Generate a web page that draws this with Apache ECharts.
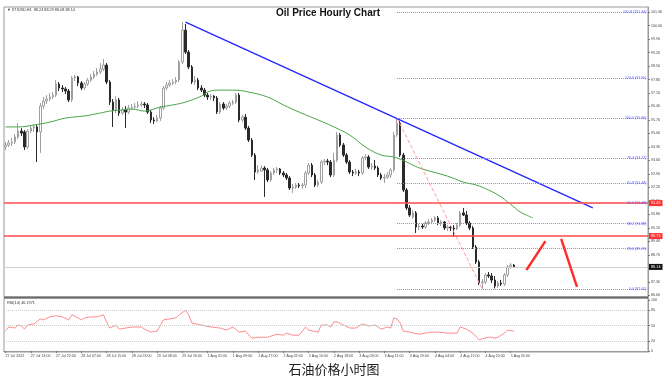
<!DOCTYPE html>
<html>
<head>
<meta charset="utf-8">
<script src="https://cdn.jsdelivr.net/npm/echarts@6/dist/echarts.min.js"></script>
<style>
html,body{margin:0;padding:0;background:#fff;}
#c{width:672px;height:382px;}
</style>
</head>
<body>
<div id="c"></div>
<script>
// ---------- DATA ----------
const xTickLabels = ["27 Jul 2022","27 Jul 14:00","27 Jul 22:00","28 Jul 07:00","28 Jul 15:00","28 Jul 23:00","29 Jul 08:00","29 Jul 16:00","1 Aug 01:00","1 Aug 09:00","1 Aug 17:00","2 Aug 02:00","2 Aug 10:00","2 Aug 18:00","3 Aug 03:00","3 Aug 11:00","3 Aug 19:00","4 Aug 04:00","4 Aug 12:00","4 Aug 20:00","5 Aug 05:00"];
const priceTicks = [101.36,100.66,99.96,99.26,98.56,97.86,97.16,96.46,95.76,95.06,94.36,93.66,92.96,92.26,91.56,90.86,90.16,89.46,88.76,88.06,87.36,86.66];
const rsiTicks = [100,80,50,20,0];
const rsiLevels = [80,50,20];

const opens = [94.36,94.46,94.57,94.62,94.88,95.19,95.14,94.36,95.19,95.34,
95.40,95.14,96.48,96.74,96.85,96.95,97.05,97.62,97.42,97.37,
97.26,96.80,97.94,97.99,97.68,97.42,97.62,97.83,97.99,98.14,
98.25,98.40,98.61,97.73,96.69,96.28,96.80,96.12,96.28,96.17,
96.38,96.43,96.48,96.54,96.59,96.54,96.17,95.76,95.71,95.86,
96.38,97.42,97.57,97.68,97.73,97.83,98.77,100.42,99.28,98.51,
97.73,97.83,97.42,97.31,97.05,96.95,97.00,96.90,96.17,96.59,
96.38,96.48,96.64,96.69,97.05,95.76,95.91,95.34,94.72,93.94,
93.06,93.11,93.27,93.17,92.65,93.01,93.17,93.22,93.01,92.91,
92.75,92.23,92.28,92.39,92.34,92.39,93.01,93.42,92.91,92.39,
92.54,93.58,93.63,93.58,92.91,93.68,94.98,94.46,93.94,93.58,
93.06,93.01,93.06,93.01,93.79,93.84,93.32,93.37,93.27,92.91,
92.75,92.80,92.91,93.17,94.98,95.60,93.94,92.13,91.20,90.73,
90.94,90.21,90.26,90.21,90.42,90.47,90.57,90.68,90.42,90.47,
90.16,90.21,90.16,90.11,90.31,90.94,90.83,90.42,90.16,89.17,
88.40,87.31,87.36,87.72,87.67,87.46,87.15,87.31,87.25,87.72,
88.14,88.24];
const closes = [94.46,94.57,94.62,94.88,95.19,95.08,94.36,95.19,95.34,95.40,
95.14,96.48,96.74,96.85,96.95,97.05,97.62,97.42,97.37,97.26,
96.80,97.94,97.99,97.68,97.42,97.62,97.83,97.99,98.14,98.25,
98.40,98.61,97.73,96.69,96.28,96.80,96.12,96.28,96.17,96.38,
96.43,96.48,96.54,96.59,96.54,96.17,95.76,95.71,95.86,96.38,
97.42,97.57,97.68,97.73,97.83,98.77,100.42,99.28,98.51,97.73,
97.83,97.42,97.31,97.05,96.95,97.00,96.90,96.17,96.59,96.38,
96.48,96.64,96.69,97.05,95.76,95.91,95.34,94.72,93.94,93.06,
93.17,93.27,93.17,92.65,93.01,93.17,93.22,93.01,92.91,92.75,
92.23,92.28,92.39,92.34,92.39,93.01,93.42,92.91,92.39,92.54,
93.58,93.63,93.58,92.91,93.68,94.98,94.46,93.94,93.58,93.06,
93.01,93.06,93.01,93.79,93.84,93.32,93.37,93.27,92.91,92.75,
92.80,92.91,93.17,94.98,95.60,93.94,92.13,91.20,90.83,90.94,
90.21,90.26,90.21,90.42,90.47,90.57,90.68,90.42,90.47,90.16,
90.21,90.16,90.11,90.31,90.94,90.83,90.42,90.16,89.17,88.40,
87.31,87.36,87.72,87.67,87.46,87.15,87.31,87.25,87.72,88.14,
88.24,88.14];
const lows = [94.20,94.36,94.41,94.51,94.77,94.93,94.20,94.25,95.08,95.14,
93.58,94.05,96.33,96.59,96.74,96.85,96.95,97.26,97.21,97.11,
96.69,96.69,97.78,97.52,97.31,97.31,97.52,97.73,97.88,98.04,
98.14,98.30,97.62,96.54,95.40,96.12,95.97,96.02,95.34,96.07,
96.28,96.33,96.38,96.43,96.38,96.07,95.60,95.55,95.65,95.71,
96.28,97.31,97.47,97.57,97.62,97.73,98.66,99.18,98.40,97.62,
97.57,97.31,97.21,96.95,96.80,96.80,96.74,96.07,96.07,96.28,
96.28,96.38,96.54,96.59,95.65,95.65,95.24,94.62,93.84,92.65,
92.96,93.06,91.77,92.54,92.54,92.91,93.01,92.91,92.80,92.65,
92.13,91.97,92.18,92.23,92.18,92.23,92.91,92.80,92.28,92.28,
92.44,93.42,93.42,92.80,92.80,93.58,94.36,93.84,93.48,92.96,
92.85,92.91,92.85,92.91,93.68,93.22,93.17,93.17,92.80,92.65,
92.49,92.70,92.75,93.06,94.88,93.84,92.02,91.09,90.73,90.62,
89.90,90.05,90.11,90.11,90.31,90.37,90.47,90.31,90.26,90.05,
90.00,90.00,89.69,90.05,90.21,90.78,90.31,90.05,89.07,88.29,
87.20,87.00,87.25,87.57,87.31,87.02,87.05,87.15,87.15,87.62,
88.03,88.08];
const highs = [94.62,94.72,94.82,95.03,95.60,95.34,95.24,95.29,95.50,95.55,
95.50,96.64,96.95,97.05,97.16,97.21,97.83,97.73,97.57,97.47,
97.37,98.04,98.09,98.04,97.78,97.73,97.94,98.14,98.30,98.45,
98.71,98.92,98.71,97.83,96.85,97.00,96.90,96.43,96.48,96.54,
96.59,96.64,96.74,96.74,96.69,96.64,96.28,95.91,96.02,96.48,
97.52,97.73,97.83,97.88,97.99,98.87,100.84,100.74,99.39,98.61,
98.04,97.94,97.57,97.42,97.16,97.11,97.05,97.00,96.69,96.69,
96.59,96.74,96.80,97.16,97.16,96.02,96.07,95.45,94.82,94.05,
93.42,93.42,93.37,93.27,93.11,93.27,93.32,93.27,93.11,93.01,
92.85,92.44,92.49,92.49,92.49,93.11,93.53,93.53,93.01,92.65,
93.68,93.74,93.74,93.68,94.05,95.14,95.08,94.57,94.05,93.68,
93.17,93.22,93.17,93.89,93.99,93.94,93.53,93.68,93.37,93.01,
92.96,93.06,93.27,95.14,95.86,95.71,94.05,92.23,91.35,91.09,
91.04,90.37,90.37,90.52,90.62,90.68,90.78,90.78,90.57,90.52,
90.31,90.26,90.31,90.42,91.04,91.20,91.04,90.52,90.26,89.28,
88.50,87.51,87.82,87.88,87.82,87.67,87.41,87.46,87.82,88.24,
88.34,88.29];

const maBars = [0,4,9,14,19,25,30,33,37,40,44,49,53,57,62,64,67,72,77,83,88,93,99,104,109,114,119,123,127,129,132,140,145,149,153,157,159,161,163,165,167];
const maValues = [95.40,95.40,95.50,95.65,95.86,95.97,96.12,96.22,96.28,96.33,96.22,96.43,96.54,96.69,97.00,97.21,97.31,97.31,97.21,96.95,96.54,96.17,95.76,95.40,94.98,94.36,93.94,93.84,93.58,93.42,93.22,92.85,92.54,92.39,92.13,91.77,91.51,91.25,90.99,90.83,90.68];

const rsiBars = [0,1,3,4,5,6,7,9,11,12,14,16,18,20,21,23,24,25,27,29,31,32,33,35,36,38,40,43,44,46,48,50,52,54,55,57,58,59,62,65,68,70,72,74,76,78,80,83,86,88,89,91,93,95,96,99,100,102,103,104,105,107,109,111,113,115,117,118,119,121,122,123,124,125,126,128,131,133,135,137,140,141,143,144,146,148,150,151,153,154,155,156,158,159,161];
const rsiValues = [40,47,45,51,49,43,51,53,63,61,67,69,67,61,71,65,61,65,67,67,71,57,45,51,43,45,47,47,43,37,39,61,63,65,71,80,71,55,51,47,45,41,47,37,39,25,27,27,33,31,35,31,31,47,41,37,51,51,47,57,57,51,45,45,53,49,51,47,43,47,45,65,63,55,39,37,33,35,37,37,35,35,35,47,43,35,22,24,27,27,25,27,35,41,39];

const trendBars = [57,186];
const trendValues = [100.84,91.20];
const fibDiagBars = [124,151];
const fibDiagValues = [95.86,87.00];
const fibLevels = ["0.0","23.6","38.2","50.0","61.8","76.4","100.0","123.6","161.8"];
const fibPrices = [87.00,89.09,90.38,91.43,92.48,93.77,95.86,97.95,101.34];
const fibStartBar = 124;
const redLevels = [91.45,89.74];
const bidPrice = 88.14;
const arrowUpBars = [165,171];
const arrowUpValues = [87.98,89.48];
const arrowDownBars = [176,181];
const arrowDownValues = [89.59,87.10];

const symbolHeader = "\u25BC XTIUSD,H1  88.24 88.29 88.08 88.14";
const rsiHeader = "RSI(14) 46.1971";
const titleText = "Oil Price Hourly Chart";
const captionText = "石油价格小时图";

// ---------- BUILD ----------
const NCAT = 204;
const categories = Array.from({length: NCAT}, (_, i) => String(i));
const candleData = opens.map((o, i) => [o, closes[i], lows[i], highs[i]]);
const pairs = (xs, ys) => xs.map((x, i) => [x, ys[i]]);
const smallFont = 'Liberation Sans';

const chart = echarts.init(document.getElementById('c'), null, {renderer: 'canvas', width: 672, height: 382});

const fibMarks = fibLevels.map((lv, i) => [
  {coord: [fibStartBar, fibPrices[i]]},
  {coord: [NCAT - 1, fibPrices[i]], label: {formatter: lv + ' (' + fibPrices[i].toFixed(2) + ')'}}
]);

chart.setOption({
  animation: false,
  backgroundColor: '#ffffff',
  grid: [
    {left: 4, top: 7, width: 644, height: 290, show: true, borderColor: '#9a9a9a', borderWidth: 1},
    {left: 4, top: 298, width: 644, height: 54, show: true, borderColor: '#9a9a9a', borderWidth: 1}
  ],
  xAxis: [
    {type: 'category', gridIndex: 0, data: categories, boundaryGap: true,
     axisLine: {show: false}, axisTick: {show: false}, axisLabel: {show: false}, splitLine: {show: false}},
    {type: 'category', gridIndex: 1, data: categories, boundaryGap: true,
     axisLine: {show: true, lineStyle: {color: '#9a9a9a'}},
     axisTick: {show: true, length: 2, alignWithLabel: true, interval: (i) => i % 8 === 0 && i <= 160, lineStyle: {color: '#777'}},
     axisLabel: {show: true, interval: (i) => i % 8 === 0 && i <= 160, hideOverlap: false,
       formatter: (v, i) => (i % 8 === 0 && i / 8 < xTickLabels.length) ? xTickLabels[i / 8] : '',
       fontSize: 3.6, color: '#444', align: 'left', margin: 2, fontFamily: smallFont},
     splitLine: {show: false}}
  ],
  yAxis: [
    {type: 'value', gridIndex: 0, position: 'right', min: 86.58, max: 101.62, scale: true,
     axisLine: {show: true, lineStyle: {color: '#9a9a9a'}},
     axisTick: {show: true, length: 2, customValues: priceTicks, lineStyle: {color: '#777'}},
     axisLabel: {show: true, customValues: priceTicks, formatter: (v) => v.toFixed(2), fontSize: 3.6, color: '#444', margin: 3, fontFamily: smallFont},
     splitLine: {show: false}},
    {type: 'value', gridIndex: 1, position: 'right', min: -2, max: 104,
     axisLine: {show: true, lineStyle: {color: '#9a9a9a'}},
     axisTick: {show: true, length: 2, customValues: rsiTicks, lineStyle: {color: '#777'}},
     axisLabel: {show: true, customValues: rsiTicks, fontSize: 3.6, color: '#444', margin: 3, fontFamily: smallFont},
     splitLine: {show: false}}
  ],
  series: [
    {
      type: 'candlestick', xAxisIndex: 0, yAxisIndex: 0, data: candleData, barWidth: 2,
      itemStyle: {color: '#ffffff', color0: '#2a2a2a', borderColor: '#a0a0a0', borderColor0: '#2a2a2a', borderWidth: 1},
      markLine: {
        silent: true, symbol: 'none', animation: false,
        data: [
          {yAxis: bidPrice, lineStyle: {color: '#cfcfcf', width: 1, type: 'solid'},
           label: {show: true, position: 'end', distance: 1, formatter: (p) => p.value.toFixed(2), color: '#fff', backgroundColor: '#111', padding: [1, 2], fontSize: 3.8, fontFamily: smallFont}},
          ...redLevels.map(v => ({yAxis: v, lineStyle: {color: '#ff4a4a', width: 1.6, type: 'solid'},
           label: {show: true, position: 'end', distance: 1, formatter: (p) => p.value.toFixed(2), color: '#fff', backgroundColor: '#ff3030', padding: [1, 2], fontSize: 3.8, fontFamily: smallFont}}))
        ]
      }
    },
    {
      type: 'line', xAxisIndex: 0, yAxisIndex: 0, data: pairs(maBars, maValues), smooth: 0.4,
      symbol: 'none', lineStyle: {color: '#4aa54a', width: 1}, z: 3
    },
    {
      type: 'line', xAxisIndex: 0, yAxisIndex: 0, data: pairs(trendBars, trendValues),
      symbol: 'none', lineStyle: {color: '#2626ff', width: 1.4}, z: 4,
      markLine: {
        silent: true, symbol: 'none', animation: false,
        lineStyle: {color: '#8a8aff', width: 1, type: 'dotted'},
        label: {show: true, position: 'insideEnd', distance: 0, color: '#5a5aff', fontSize: 3.6, fontFamily: smallFont},
        data: fibMarks
      }
    },
    {
      type: 'line', xAxisIndex: 0, yAxisIndex: 0, data: pairs(fibDiagBars, fibDiagValues),
      symbol: 'none', lineStyle: {color: '#ff9a9a', width: 1, type: 'dashed'}, z: 3
    },
    {
      type: 'line', xAxisIndex: 0, yAxisIndex: 0, data: pairs(arrowUpBars, arrowUpValues),
      symbol: 'none', lineStyle: {color: '#ff2a2a', width: 2.4}, z: 5
    },
    {
      type: 'line', xAxisIndex: 0, yAxisIndex: 0, data: pairs(arrowDownBars, arrowDownValues),
      symbol: 'none', lineStyle: {color: '#ff2a2a', width: 2.4}, z: 5
    },
    {
      type: 'line', xAxisIndex: 1, yAxisIndex: 1, data: pairs(rsiBars, rsiValues),
      symbol: 'none', lineStyle: {color: '#ff8c8c', width: 1},
      markLine: {
        silent: true, symbol: 'none', animation: false, label: {show: false},
        lineStyle: {color: '#cccccc', width: 1, type: 'dotted'},
        data: rsiLevels.map(v => ({yAxis: v}))
      }
    }
  ],
  graphic: [
    {type: 'line', shape: {x1: 4, y1: 297.5, x2: 648, y2: 297.5}, style: {stroke: '#6a6a6a', lineWidth: 2}, z: 10},
    {type: 'text', style: {text: titleText, x: 328, y: 13, textAlign: 'center', textVerticalAlign: 'middle',
      font: 'bold 10px "Liberation Sans Narrow", "Liberation Sans", sans-serif', fill: '#111'}, z: 10},
    {type: 'text', style: {text: symbolHeader, x: 7, y: 10, textAlign: 'left', textVerticalAlign: 'middle',
      font: '3.8px "Liberation Sans", sans-serif', fill: '#333'}, z: 10},
    {type: 'text', style: {text: rsiHeader, x: 7, y: 302.5, textAlign: 'left', textVerticalAlign: 'middle',
      font: '3.8px "Liberation Sans", sans-serif', fill: '#333'}, z: 10},
    {type: 'text', style: {text: captionText, x: 334, y: 369, textAlign: 'center', textVerticalAlign: 'middle',
      font: '13px "Noto Sans CJK SC", sans-serif', fill: '#222'}, z: 10}
  ]
});
</script>
</body>
</html>
